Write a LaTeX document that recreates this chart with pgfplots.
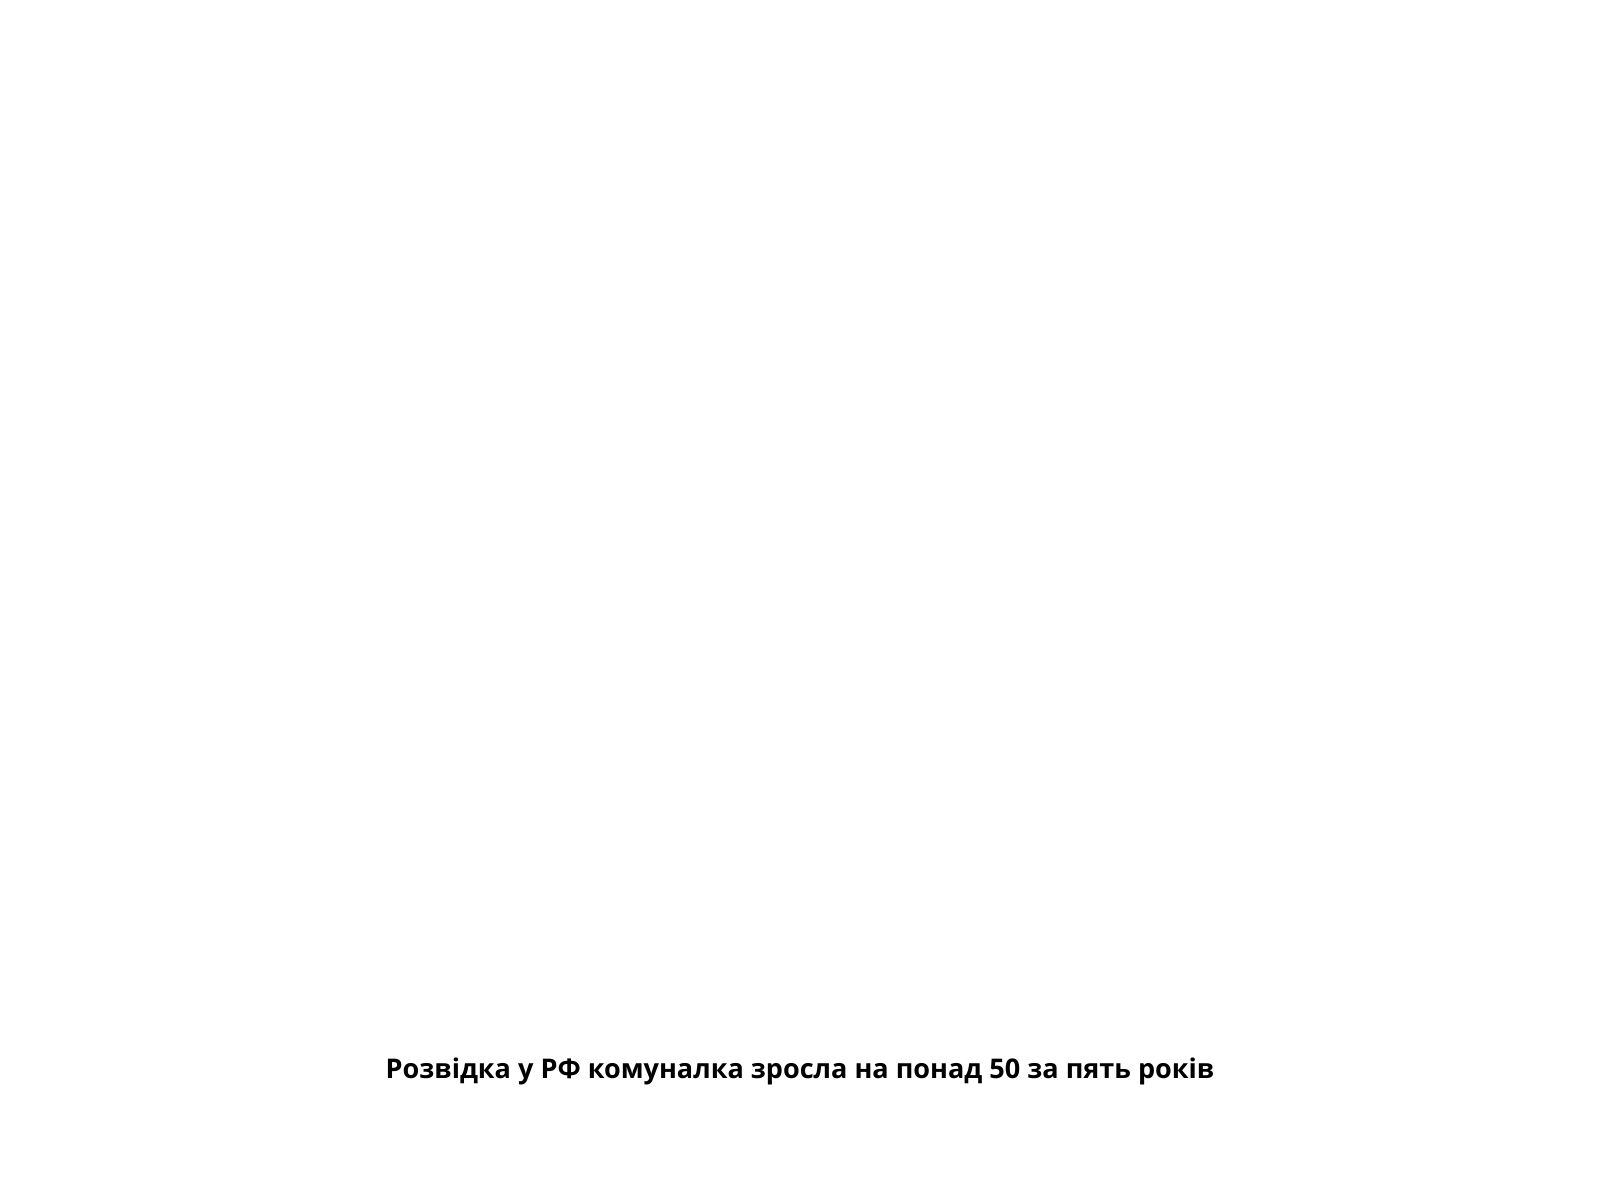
\documentclass[border=0pt]{standalone}
\usepackage{pgfplots}
\pgfplotsset{compat=1.18}
\usepackage{fontspec}
\setmainfont{Open Sans}
\begin{document}
\begin{tikzpicture}
\path[use as bounding box] (0,0) rectangle (16cm,12cm);
\begin{axis}[
  at={(0,0)}, anchor=south west,
  width=16cm, height=12cm, scale only axis,
  hide axis,
  xmin=0, xmax=1, ymin=0, ymax=1,
  every axis title shift=0pt,
  title={Розвідка у РФ комуналка зросла на понад 50 за пять років},
  title style={at={(axis description cs:0.5,0.107)}, anchor=center,
    font=\fontsize{7.7pt}{9pt}\selectfont\bfseries},
]
\end{axis}
\end{tikzpicture}
\end{document}
